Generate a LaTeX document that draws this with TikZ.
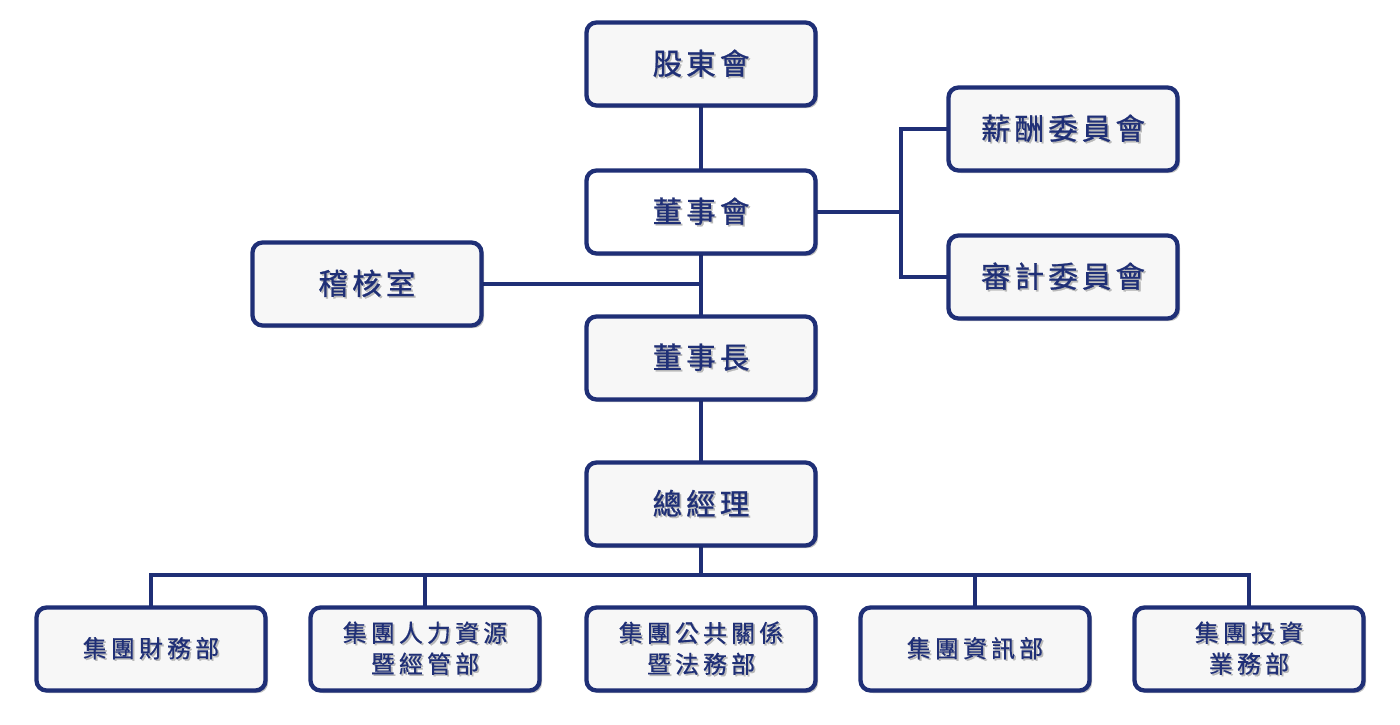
\documentclass[tikz,border=0pt]{standalone}
\usepackage{fontspec}
\usetikzlibrary{shadows}
\newfontfamily\cjkbig[LetterSpace=14,FakeBold=0.9]{Noto Sans CJK TC}
\newfontfamily\cjksmall[LetterSpace=17,FakeBold=0.6]{Noto Sans CJK TC}
\definecolor{navy}{RGB}{31,47,118}
\definecolor{boxfill}{RGB}{247,247,247}
\newcommand\sdtxt[1]{\leavevmode\rlap{\raisebox{-1.6pt}{\hspace{1.6pt}\textcolor{black!28}{#1}}}#1}
\tikzset{
  orgbox/.style={draw=navy, line width=4.3pt, rounded corners=10pt, fill=boxfill,
    minimum width=229pt, minimum height=83pt, inner sep=0pt, text=navy, align=center,
    drop shadow={shadow xshift=2.5pt, shadow yshift=-2.5pt, opacity=0.25, fill=black}},
  bigtxt/.style={font=\fontsize{29.5}{32}\cjkbig},
  smalltxt/.style={font=\fontsize{24}{31}\cjksmall},
  conn/.style={draw=navy, line width=4pt}
}
\begin{document}
\begin{tikzpicture}[x=1pt,y=-1pt]
\useasboundingbox (0,0) rectangle (1400,725);
% connectors first
\coordinate (bus) at (701,575);
\coordinate (aud) at (701,284);
\coordinate (rb) at (901,212);
\coordinate (rt) at (901,129);
\coordinate (rbt) at (901,277);
\coordinate (bl) at (151,575);
\coordinate (br) at (1249,575);
\draw[conn] (701,64) -- (701,504);
\draw[conn] (367,284) -- (aud);
\draw[conn] (701,212) -- (rb);
\draw[conn] (1063,129) -- (rt) -- (rbt) -- (1063,277);
\draw[conn] (701,504) -- (bus);
\draw[conn] (151,649) -- (bl) -- (br) -- (1249,649);
\draw[conn] (425,575) -- (425,649);
\draw[conn] (975,575) -- (975,649);
% boxes
\node[orgbox,bigtxt] (sh) at (701,64) {\sdtxt{股東會}};
\node[orgbox,bigtxt,fill=white] (bd) at (701,212) {\sdtxt{董事會}};
\node[orgbox,bigtxt] (pay) at (1063,129) {\sdtxt{薪酬委員會}};
\node[orgbox,bigtxt] (audc) at (1063,277) {\sdtxt{審計委員會}};
\node[orgbox,bigtxt] (ia) at (367,284) {\sdtxt{稽核室}};
\node[orgbox,bigtxt] (ch) at (701,358) {\sdtxt{董事長}};
\node[orgbox,bigtxt] (gm) at (701,504) {\sdtxt{總經理}};
\node[orgbox,smalltxt] (d1) at (151,649) {\sdtxt{集團財務部}};
\node[orgbox,smalltxt] (d2) at (425,649) {\sdtxt{集團人力資源}\\\sdtxt{暨經管部}};
\node[orgbox,smalltxt] (d3) at (701,649) {\sdtxt{集團公共關係}\\\sdtxt{暨法務部}};
\node[orgbox,smalltxt] (d4) at (975,649) {\sdtxt{集團資訊部}};
\node[orgbox,smalltxt] (d5) at (1249,649) {\sdtxt{集團投資}\\\sdtxt{業務部}};
\end{tikzpicture}
\end{document}
